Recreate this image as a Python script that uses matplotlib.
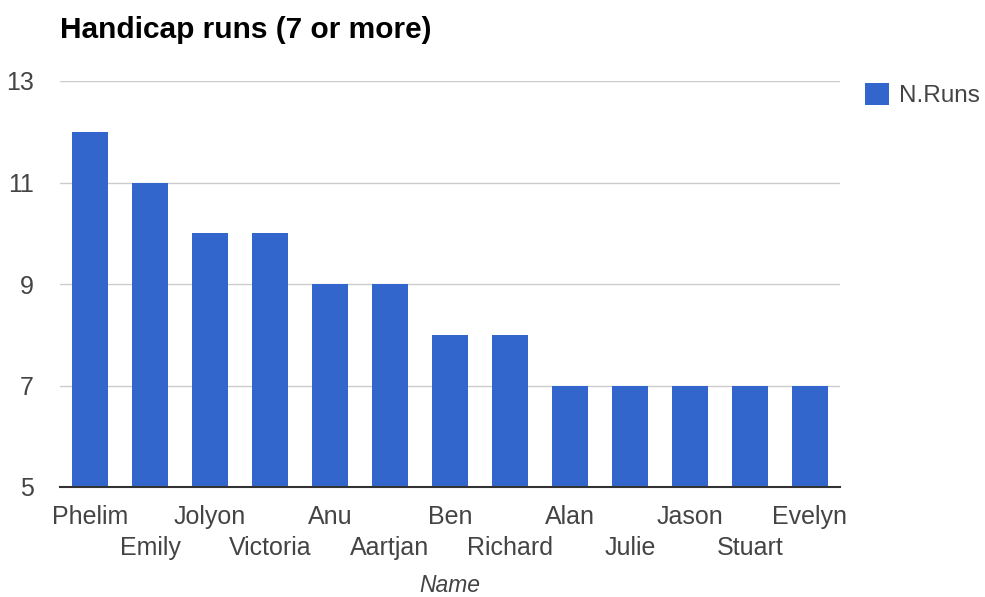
import numpy as np
import matplotlib.pyplot as plt

# Data
names = ["Phelim", "Emily", "Jolyon", "Victoria", "Anu", "Aartjan", "Ben",
         "Richard", "Alan", "Julie", "Jason", "Stuart", "Evelyn"]
runs = [12, 11, 10, 10, 9, 9, 8, 8, 7, 7, 7, 7, 7]
y_ticks = [5, 7, 9, 11, 13]

# Style
plt.rcParams['font.family'] = ['Liberation Sans', 'DejaVu Sans']
bar_color = "#3366CC"
text_color = "#444444"

fig = plt.figure(figsize=(9.85, 5.97), dpi=100)
ax = fig.add_axes([60/985, 110/597, 780/985, 406/597])

x = np.arange(len(names))
ax.bar(x, runs, width=0.6, color=bar_color, label="N.Runs", zorder=2)

ax.set_xlim(-0.5, len(names) - 0.5)
ax.set_ylim(5, 13)
ax.set_yticks(y_ticks)
ax.set_yticklabels([str(v) for v in y_ticks], fontsize=18, color=text_color)
ax.grid(axis='y', color="#CCCCCC", linewidth=1, zorder=0)

# Alternate two rows of x labels: even on major ticks, odd on minor ticks
ax.set_xticks(x[0::2])
ax.set_xticklabels(names[0::2], fontsize=18, color=text_color)
ax.set_xticks(x[1::2], minor=True)
ax.set_xticklabels(names[1::2], minor=True, fontsize=18, color=text_color)
ax.tick_params(axis='x', which='major', length=0, pad=13)
ax.tick_params(axis='x', which='minor', length=0, pad=35)
ax.tick_params(axis='y', length=0, pad=19)

for s in ['top', 'right', 'left']:
    ax.spines[s].set_visible(False)
ax.spines['bottom'].set_color("#333333")
ax.spines['bottom'].set_linewidth(1.5)
ax.spines['bottom'].set_zorder(3)

ax.set_xlabel("Name", fontsize=16.5, style='italic', color=text_color, labelpad=10)

fig.text(60/985, 1 - 30/597, "Handicap runs (7 or more)", fontsize=21.5,
         fontweight='bold', color="#000000", va='center', ha='left')

fig.legend(loc='upper left', bbox_to_anchor=(865/985, 1 - 83/597), frameon=False,
           fontsize=17.5, handlelength=1.0, handleheight=1.0, handletextpad=0.4,
           borderpad=0, borderaxespad=0, labelcolor=text_color)

fig.savefig("out.png", dpi=100)
